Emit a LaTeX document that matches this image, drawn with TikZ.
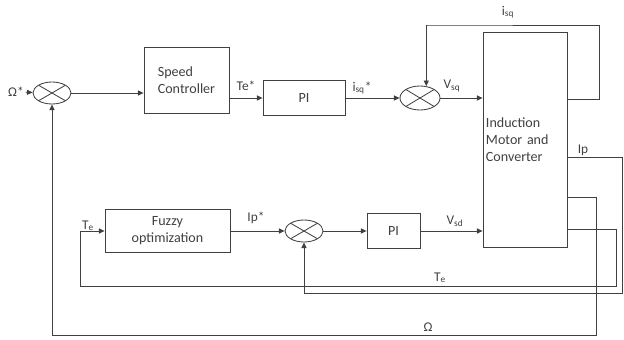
\documentclass[tikz,border=0pt]{standalone}
\usepackage{fontspec}
\setmainfont{Carlito}
\usetikzlibrary{positioning, arrows.meta, calc, shapes.geometric}

\begin{document}
\begin{tikzpicture}[
    x=0.025cm, y=-0.025cm, line width=0.6pt, color=black!75,
    block/.style={rectangle, draw, align=center,
                  font=\fontsize{10}{12}\selectfont},
    sum/.style={ellipse, draw, inner sep=0pt,
                minimum width=9.5mm, minimum height=5.5mm,
                path picture={\draw (path picture bounding box.north west) -- (path picture bounding box.south east)
                                    (path picture bounding box.south west) -- (path picture bounding box.north east);}},
    sig/.style={font=\fontsize{9.5}{11}\selectfont, inner sep=1pt},
    arrow/.style={-{Triangle[length=4pt,width=3.6pt]}}
]
  \useasboundingbox (0,0) rectangle (624,340);

  % speed loop
  \node[sum] (sum1) at (52,93) {};
  \node[sig] (wref) at (16,92) {Ω*};
  \node[block, minimum width=21.25mm, minimum height=16.5mm, align=left] (sc) at (186.5,80) {Speed\\Controller};
  \node[block, minimum width=20.5mm, minimum height=8.75mm] (pi1) at (304,98) {PI};
  \node[sum, minimum width=10mm, minimum height=6mm] (sum2) at (420,98) {};

  % machine
  \node[block, minimum width=21mm, minimum height=53.75mm,
        text width=19.5mm, inner xsep=0.75mm, align=left] (motor) at (525,139.5)
        {Induction\\Motor and\\Converter};
  \coordinate (m-isq) at (motor.east |- 0,99);
  \coordinate (m-ip)  at (motor.east |- 0,157);
  \coordinate (m-w)   at (motor.east |- 0,197);
  \coordinate (m-te)  at (motor.east |- 0,229);

  % flux loop
  \node[block, minimum width=31.25mm, minimum height=10.75mm] (fuzzy) at (167.5,231) {Fuzzy\\optimization};
  \node[sum] (sum3) at (304,231) {};
  \node[block, minimum width=13.25mm, minimum height=8.75mm] (pi2) at (393.5,231) {PI};

  \draw[arrow] (wref) -- (sum1);
  \draw[arrow] (sum1) -- (sum1 -| sc.west);
  \draw[arrow] (sc.east |- pi1) -- (pi1);
  \draw[arrow] (pi1) -- (sum2);
  \draw[arrow] (sum2) -- (sum2 -| motor.west);
  \draw[arrow] (fuzzy) -- (sum3);
  \draw[arrow] (sum3) -- (pi2);
  \draw[arrow] (pi2) -- (pi2 -| motor.west);

  % feedback paths
  \draw[arrow] (m-isq) -- ++(32,0) |- (428,25) -| (sum2.62);
  \draw[arrow] (m-ip) -- (622,157) -- (622,293) -| (sum3.south);
  \draw[arrow] (m-w) -- (596,197) -- (596,335) -| (sum1.south);
  \draw[arrow] (m-te) -| (616,286) -| (80,231) -- (fuzzy.west);

  % signal labels
  \node[sig] at (246,86) {Te*};
  \node[sig] at (362,88) {i\textsubscript{sq}*};
  \node[sig] at (452,86) {V\textsubscript{sq}};
  \node[sig] at (508,12) {i\textsubscript{sq}};
  \node[sig] at (583,150) {Ip};
  \node[sig] at (256,218) {Ip*};
  \node[sig] at (455,221) {V\textsubscript{sd}};
  \node[sig] at (88,226) {T\textsubscript{e}};
  \node[sig] at (440,278) {T\textsubscript{e}};
  \node[sig] at (428,327) {Ω};
\end{tikzpicture}
\end{document}
